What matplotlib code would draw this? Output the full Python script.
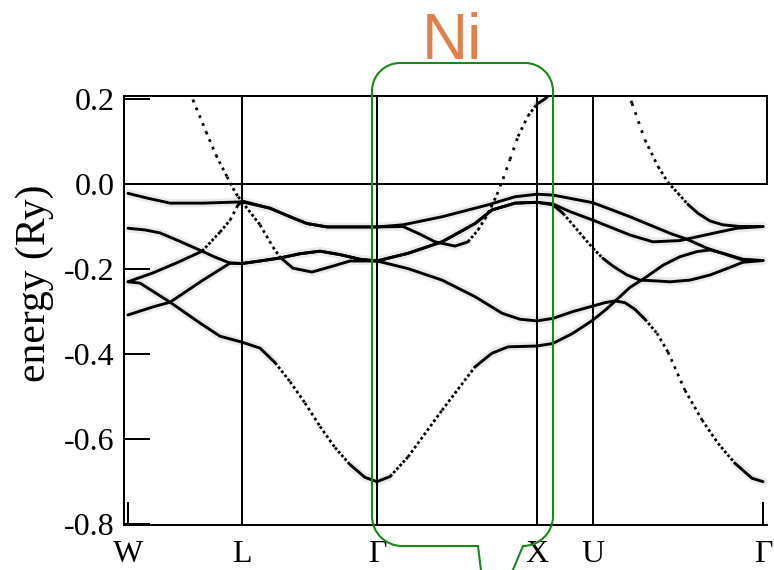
import numpy as np
import matplotlib
matplotlib.use("Agg")
import matplotlib.pyplot as plt
from matplotlib.path import Path
from matplotlib.patches import PathPatch

# ---------------------------------------------------------------
# Path through the fcc Brillouin zone (distance in units of 2*pi/a)
# ---------------------------------------------------------------
kpt_labels = ["W", "L", "Γ", "X", "U", "Γ"]
kpt_pos = [0.0, 0.713, 1.556, 2.556, 2.906, 3.969]

ytick_vals = [0.2, 0.0, -0.2, -0.4, -0.6, -0.8]
ytick_text = ["0.2", "0.0", "-0.2", "-0.4", "-0.6", "-0.8"]

# ---------------------------------------------------------------
# Band energies of Ni (Ry), each band followed along the whole path
# ---------------------------------------------------------------
band1_k = [0.0, 0.075, 0.263, 0.45, 0.575, 0.713,
           0.825, 0.919, 1.013, 1.106, 1.2, 1.294, 1.388, 1.481, 1.556,
           1.638, 1.75, 1.963, 2.169, 2.275, 2.375, 2.556,
           2.656, 2.781, 2.906,
           2.994, 3.075, 3.138, 3.219, 3.344, 3.45, 3.556, 3.638, 3.719, 3.844, 3.969]
band1_e = [-0.230, -0.233, -0.278, -0.327, -0.358, -0.372,
           -0.386, -0.420, -0.465, -0.515, -0.570, -0.620, -0.660, -0.690, -0.700,
           -0.688, -0.642, -0.532, -0.430, -0.398, -0.383, -0.381,
           -0.375, -0.351, -0.320,
           -0.293, -0.265, -0.243, -0.224, -0.191, -0.171, -0.159, -0.155, -0.163, -0.177, -0.180]

band2_k = [0.0, 0.156, 0.263, 0.469, 0.638, 0.713,
           0.825, 0.95, 1.075, 1.2, 1.325, 1.45, 1.556,
           1.75, 1.963, 2.169, 2.338, 2.45, 2.556,
           2.656, 2.781, 2.906,
           2.981, 3.044, 3.106, 3.169, 3.231, 3.306, 3.375, 3.481, 3.588, 3.688, 3.794, 3.9, 3.969]
band2_e = [-0.308, -0.289, -0.278, -0.226, -0.186, -0.187,
           -0.181, -0.174, -0.164, -0.158, -0.166, -0.177, -0.181,
           -0.199, -0.226, -0.265, -0.304, -0.318, -0.322,
           -0.316, -0.300, -0.287,
           -0.279, -0.275, -0.279, -0.295, -0.318, -0.351, -0.395, -0.485, -0.555, -0.610, -0.657, -0.692, -0.700]

band3_k = [0.0, 0.106, 0.2, 0.325, 0.463, 0.544, 0.638, 0.713,
           0.825, 0.95, 1.075, 1.2, 1.325, 1.45, 1.556,
           1.75, 1.963, 2.169, 2.275, 2.419, 2.556,
           2.656, 2.719, 2.781, 2.844, 2.906,
           2.969, 3.031, 3.119, 3.2, 3.306, 3.388, 3.513, 3.638, 3.763, 3.844, 3.969]
band3_e = [-0.104, -0.108, -0.115, -0.135, -0.158, -0.172, -0.186, -0.187,
           -0.181, -0.174, -0.164, -0.158, -0.166, -0.177, -0.181,
           -0.163, -0.136, -0.093, -0.061, -0.045, -0.043,
           -0.049, -0.069, -0.096, -0.124, -0.151,
           -0.175, -0.193, -0.214, -0.226, -0.228, -0.230, -0.226, -0.214, -0.196, -0.184, -0.180]

band4_k = [0.0, 0.156, 0.313, 0.463, 0.575, 0.638, 0.688, 0.713,
           0.825, 0.906, 0.95, 1.031, 1.15, 1.263, 1.388, 1.556,
           1.75, 1.963, 2.169, 2.275, 2.419, 2.556,
           2.656, 2.763, 2.906,
           3.138, 3.281, 3.45, 3.656, 3.806, 3.969]
band4_e = [-0.230, -0.209, -0.184, -0.158, -0.113, -0.085, -0.049, -0.042,
           -0.096, -0.148, -0.172, -0.198, -0.207, -0.195, -0.181, -0.181,
           -0.163, -0.136, -0.093, -0.061, -0.045, -0.043,
           -0.047, -0.065, -0.085,
           -0.120, -0.136, -0.133, -0.116, -0.104, -0.100]

band5_k = [0.0, 0.119, 0.263, 0.469, 0.713,
           0.888, 1.013, 1.119, 1.244, 1.388, 1.556,
           1.719, 1.963, 2.25, 2.419, 2.556,
           2.656, 2.906,
           3.138, 3.388, 3.494, 3.619, 3.763, 3.844, 3.969]
band5_e = [-0.022, -0.033, -0.045, -0.045, -0.042,
           -0.057, -0.077, -0.093, -0.101, -0.101, -0.101,
           -0.096, -0.077, -0.049, -0.030, -0.024,
           -0.026, -0.044,
           -0.077, -0.116, -0.130, -0.151, -0.169, -0.179, -0.180]

band6_k = [0.0, 0.325, 0.406, 0.488, 0.55, 0.619, 0.656, 0.688, 0.713,
           0.888, 1.013, 1.119, 1.244, 1.388, 1.556,
           1.719, 1.825, 1.919, 2.044, 2.125, 2.188, 2.231, 2.269, 2.306, 2.344, 2.388, 2.438, 2.5, 2.556,
           2.606, 2.7, 2.906,
           3.044, 3.15, 3.231, 3.313, 3.375, 3.438, 3.5, 3.563, 3.638, 3.719, 3.825, 3.969]
band6_e = [0.600, 0.270, 0.198, 0.123, 0.068, 0.017, -0.010, -0.030, -0.040,
           -0.057, -0.077, -0.093, -0.101, -0.101, -0.101,
           -0.100, -0.118, -0.136, -0.146, -0.136, -0.108, -0.082, -0.055, -0.025, 0.012, 0.058, 0.112, 0.160, 0.188,
           0.200, 0.235, 0.400,
           0.290, 0.190, 0.104, 0.041, 0.004, -0.022, -0.048, -0.069, -0.087, -0.096, -0.100, -0.100]

bands = [(band1_k, band1_e), (band2_k, band2_e), (band3_k, band3_e),
         (band4_k, band4_e), (band5_k, band5_e), (band6_k, band6_e)]

# ---------------------------------------------------------------
# Figure
# ---------------------------------------------------------------
plt.rcParams["font.family"] = ["Liberation Serif", "DejaVu Serif"]
plt.rcParams["axes.unicode_minus"] = False
plt.rcParams["lines.scale_dashes"] = False

W_PX, H_PX = 774, 570
fig = plt.figure(figsize=(W_PX / 100, H_PX / 100), dpi=100)
ax = fig.add_axes([0.16021, 0.078947, 0.83075, 0.752632])
ax.set_xlim(-0.025, 3.994)
ax.set_ylim(-0.802, 0.207)

frame_lw = 1.44
for name, sp in ax.spines.items():
    sp.set_linewidth(frame_lw)
ax.spines["right"].set_bounds(0.0, 0.207)

ax.set_yticks(ytick_vals)
ax.set_yticklabels(ytick_text)
ax.set_xticks(kpt_pos)
ax.set_xticklabels(kpt_labels)
ax.tick_params(axis="y", direction="in", length=18.7, width=frame_lw,
               labelsize=23, pad=6.5, right=False)
ax.tick_params(axis="x", direction="in", length=16.5, width=frame_lw,
               labelsize=23, pad=10.5, top=False)

# Fermi level and high-symmetry verticals
ax.axhline(0.0, color="black", lw=frame_lw, zorder=2)
for kp in kpt_pos[1:-1]:
    ax.axvline(kp, color="black", lw=frame_lw, zorder=2)

# Bands: flat stretches as broadened solid lines, steep stretches
# look like a dotted trace of the k-grid sampling
T = ax.transData
halo_color = "#ebebeb"
halo_lw = 6.0
core_lw = 2.1
dot_lw = 2.0


def draw_band(k, e):
    k = np.asarray(k, float)
    e = np.asarray(e, float)
    pts = T.transform(np.column_stack([k, e]))
    d = np.diff(pts, axis=0)
    slope = np.abs(d[:, 1]) / np.maximum(np.abs(d[:, 0]), 1e-9)
    steep = slope > 1.0
    n = len(k) - 1
    i = 0
    while i < n:
        j = i
        while j < n and steep[j] == steep[i]:
            j += 1
        if not steep[i]:
            ax.plot(k[i:j + 1], e[i:j + 1], color=halo_color, lw=halo_lw,
                    solid_capstyle="round", solid_joinstyle="round", zorder=1)
            ax.plot(k[i:j + 1], e[i:j + 1], color="black", lw=core_lw,
                    solid_capstyle="round", solid_joinstyle="round", zorder=3)
        else:
            for m in range(i, j):
                period = 3.2 * np.hypot(1.0, slope[m])
                on = 2.8
                off = max(period - on, 0.6)
                ax.plot(k[m:m + 2], e[m:m + 2], color="black", lw=dot_lw,
                        dashes=(on * 0.72, off * 0.72), dash_capstyle="butt",
                        zorder=3)
        i = j


for bk, be in bands:
    draw_band(bk, be)

# axis label
fig.text(35 / W_PX, 1 - 283 / H_PX, "energy (Ry)", rotation=90,
         ha="center", va="center", fontsize=30)

# ---------------------------------------------------------------
# Callout bubble with the element name
# ---------------------------------------------------------------
def px(x, y):
    return (x / W_PX, 1 - y / H_PX)


c = 0.5523
x0, x1, y0, y1 = 372, 553, 63, 546
rt, rb = 28, 30
tip = (488, 629)
tail_left = 478
verts = [
    px(x0 + rt, y0),
    px(x1 - rt, y0),
    px(x1 - rt + c * rt, y0), px(x1, y0 + rt - c * rt), px(x1, y0 + rt),
    px(x1, y1 - rb),
    px(x1, y1 - rb + c * rb), px(x1 - rb + c * rb, y1), px(x1 - rb, y1),
    px(*tip),
    px(tail_left, y1),
    px(x0 + rb, y1),
    px(x0 + rb - c * rb, y1), px(x0, y1 - rb + c * rb), px(x0, y1 - rb),
    px(x0, y0 + rt),
    px(x0, y0 + rt - c * rt), px(x0 + rt - c * rt, y0), px(x0 + rt, y0),
]
codes = [Path.MOVETO, Path.LINETO,
         Path.CURVE4, Path.CURVE4, Path.CURVE4,
         Path.LINETO,
         Path.CURVE4, Path.CURVE4, Path.CURVE4,
         Path.LINETO, Path.LINETO, Path.LINETO,
         Path.CURVE4, Path.CURVE4, Path.CURVE4,
         Path.LINETO,
         Path.CURVE4, Path.CURVE4, Path.CURVE4]
bubble = PathPatch(Path(verts, codes), transform=fig.transFigure,
                   facecolor="none", edgecolor="#178a17", lw=1.5,
                   zorder=10, clip_on=False)
fig.add_artist(bubble)

fig.text(452 / W_PX, 1 - 59 / H_PX, "Ni", fontsize=46, color="#E0814C",
         family=["Liberation Sans", "DejaVu Sans"], ha="center", va="baseline",
         zorder=11)

fig.savefig("out.png", dpi=100)
